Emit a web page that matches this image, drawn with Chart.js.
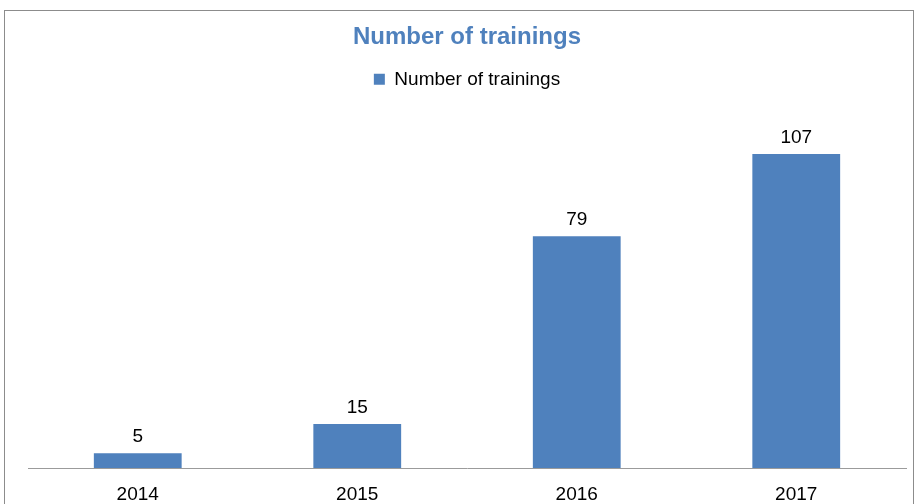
<!DOCTYPE html>
<html>
<head>
<meta charset="utf-8">
<script src="https://cdn.jsdelivr.net/npm/chart.js@4.4.1/dist/chart.umd.min.js"></script>
<style>
    html, body { margin: 0; padding: 0; background: #fff; }
    #frame {
        position: absolute; left: 4px; top: 10px;
        width: 908px; height: 500px;
        border: 1px solid #8c8c8c;
    }
    #wrap { position: absolute; left: 0; top: 0; width: 915px; height: 504px; }
</style>
</head>
<body>
<div id="frame"></div>
<div id="wrap"><canvas id="trainingsChart" width="915" height="504"></canvas></div>
<script>
// Chart data
const years = ['2014', '2015', '2016', '2017'];
const trainings = [5, 15, 79, 107];
const seriesName = 'Number of trainings';

// Draws the value above each bar
const barValues = {
    id: 'barValues',
    afterDatasetsDraw(chart) {
        const ctx = chart.ctx;
        const meta = chart.getDatasetMeta(0);
        ctx.save();
        ctx.font = '19px "Liberation Sans", Arial, sans-serif';
        ctx.fillStyle = '#000';
        ctx.textAlign = 'center';
        ctx.textBaseline = 'bottom';
        meta.data.forEach((bar, i) => {
            ctx.fillText(trainings[i], bar.x, bar.y - 7);
        });
        ctx.restore();
    }
};

// Extra room below the legend
const legendSpacer = {
    id: 'legendSpacer',
    beforeInit(chart) {
        const origFit = chart.legend.fit;
        chart.legend.fit = function() {
            origFit.bind(chart.legend)();
            this.height += 17;
        };
    }
};

const ctx = document.getElementById('trainingsChart').getContext('2d');
const chart = new Chart(ctx, {
    type: 'bar',
    data: {
        labels: years,
        datasets: [{
            label: seriesName,
            data: trainings,
            backgroundColor: '#4F81BD',
            borderWidth: 0,
            barPercentage: 0.4,
            categoryPercentage: 1.0
        }]
    },
    options: {
        responsive: false,
        animation: false,
        layout: {
            padding: { top: 10, left: 28, right: 9, bottom: 1 }
        },
        scales: {
            x: {
                grid: { display: false, drawTicks: false },
                border: { display: true, color: '#9b9b9b', width: 1 },
                ticks: {
                    color: '#000',
                    padding: 15,
                    font: { family: '"Liberation Sans", Arial, sans-serif', size: 19 }
                },
                afterFit(scale) {
                    scale.height = 35;
                }
            },
            y: {
                display: false,
                min: 0,
                max: 120
            }
        },
        plugins: {
            title: {
                display: true,
                text: seriesName,
                color: '#4F81BD',
                padding: { top: 13, bottom: 2 },
                font: { family: '"Liberation Sans", Arial, sans-serif', size: 24, weight: 'bold' }
            },
            legend: {
                display: true,
                labels: {
                    color: '#000',
                    boxWidth: 11,
                    boxHeight: 11,
                    padding: 16,
                    font: { family: '"Liberation Sans", Arial, sans-serif', size: 19 }
                }
            },
            tooltip: { enabled: false }
        }
    },
    plugins: [barValues, legendSpacer]
});
</script>
</body>
</html>
